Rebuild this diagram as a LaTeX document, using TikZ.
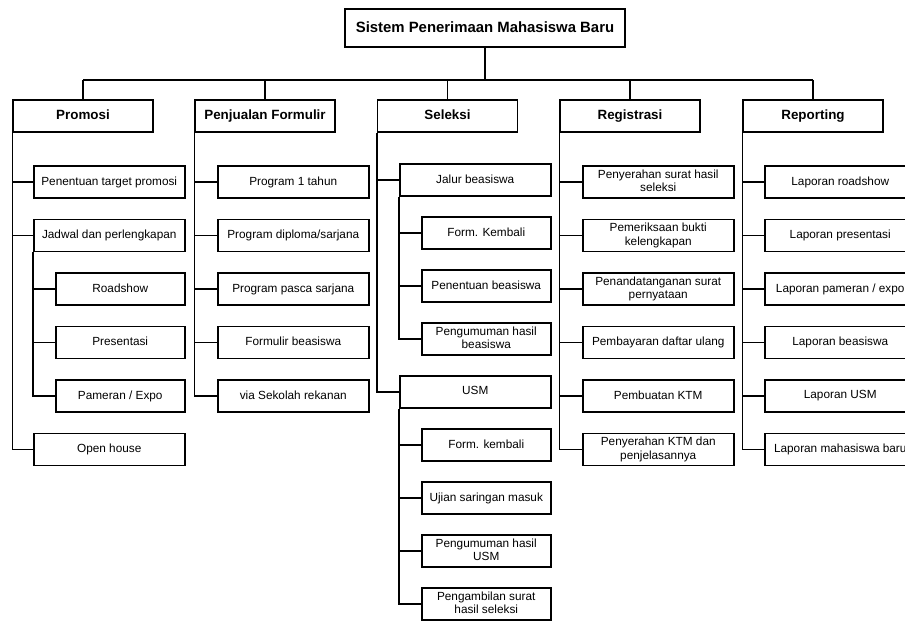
\documentclass[tikz,border=0pt]{standalone}
\usepackage{fontspec}
\setmainfont{Liberation Sans}
\usepackage{tikz}

\tikzset{
  box/.style={draw, line width=1.5pt, minimum height=32pt, inner sep=2pt, align=center,
    text depth=0.25em, font=\fontsize{11.8}{13.5}\selectfont},
  top/.style={box, minimum width=280pt, minimum height=38pt, font=\fontsize{14.9}{17}\selectfont\bfseries},
  head/.style={box, minimum width=140pt, font=\fontsize{13.4}{15}\selectfont\bfseries},
  sub/.style={box, minimum width=151pt, anchor=west},
  subsub/.style={box, minimum width=129pt, anchor=west},
  link/.style={line width=1.5pt},
  bus/.style={line width=2.4pt}
}

\begin{document}
\begin{tikzpicture}[x=1pt,y=-1pt]
\clip (0,0) rectangle (905,626);
\node[top] (sys) at (485,28) {Sistem Penerimaan Mahasiswa Baru};
\coordinate (bus) at (485,80);
\node[head] (promosi) at (83,116) {Promosi};
\node[head] (formulir) at (265,116) {Penjualan Formulir};
\node[head] (seleksi) at (447.5,116) {Seleksi};
\node[head] (registrasi) at (630,116) {Registrasi};
\node[head] (reporting) at (813,116) {Reporting};
\draw[bus] (sys.south) -- (sys.south |- bus);
\draw[bus] (promosi.north |- bus) -- (reporting.north |- bus);
\foreach \h in {promosi,formulir,seleksi,registrasi,reporting}
  \draw[link] (\h.north |- bus) -- (\h.north);

% promosi
\node[sub] (pr1) at (33,182) {Penentuan target promosi};
\node[sub] (pr2) at (33,235.5) {Jadwal dan perlengkapan};
\node[subsub] (pr3) at (55,289) {Roadshow};
\node[subsub] (pr4) at (55,342.5) {Presentasi};
\node[subsub] (pr5) at (55,396) {Pameran / Expo};
\node[sub] (pr6) at (33,449.5) {Open house};
\foreach \c in {pr1,pr2,pr6}
  \draw[link] (promosi.south west) |- (\c.west);
\foreach \c in {pr3,pr4,pr5}
  \draw[link] (pr2.south west) |- (\c.west);

% penjualan formulir
\foreach \lab [count=\i] in {Program 1 tahun,Program diploma/sarjana,Program pasca sarjana,
    Formulir beasiswa,via Sekolah rekanan}{
  \node[sub] (pf\i) at (217,128.5+53.5*\i) {\lab};
  \draw[link] (formulir.south west) |- (pf\i.west);
}

% seleksi
\node[sub] (sl1) at (399,180) {Jalur beasiswa};
\node[subsub] (sl2) at (421,233) {Form. Kembali};
\node[subsub] (sl3) at (421,286) {Penentuan beasiswa};
\node[subsub] (sl4) at (421,339) {Pengumuman hasil\\beasiswa};
\node[sub] (sl5) at (399,392) {USM};
\node[subsub] (sl6) at (421,445) {Form. kembali};
\node[subsub] (sl7) at (421,498) {Ujian saringan masuk};
\node[subsub] (sl8) at (421,551) {Pengumuman hasil\\USM};
\node[subsub] (sl9) at (421,604) {Pengambilan surat\\hasil seleksi};
\foreach \c in {sl1,sl5}
  \draw[link] (seleksi.south west) |- (\c.west);
\foreach \c in {sl2,sl3,sl4}
  \draw[link] (sl1.south west) |- (\c.west);
\foreach \c in {sl6,sl7,sl8,sl9}
  \draw[link] (sl5.south west) |- (\c.west);

% registrasi
\foreach \lab [count=\i] in {Penyerahan surat hasil\\seleksi,Pemeriksaan bukti\\kelengkapan,
    Penandatanganan surat\\pernyataan,Pembayaran daftar ulang,Pembuatan KTM,
    Penyerahan KTM dan\\penjelasannya}{
  \node[sub] (rg\i) at (582,128.5+53.5*\i) {\lab};
  \draw[link] (registrasi.south west) |- (rg\i.west);
}

% reporting
\foreach \lab [count=\i] in {Laporan roadshow,Laporan presentasi,Laporan pameran / expo,
    Laporan beasiswa,Laporan USM,Laporan mahasiswa baru}{
  \node[sub] (rp\i) at (764,128.5+53.5*\i) {\lab};
  \draw[link] (reporting.south west) |- (rp\i.west);
}
\end{tikzpicture}
\end{document}
